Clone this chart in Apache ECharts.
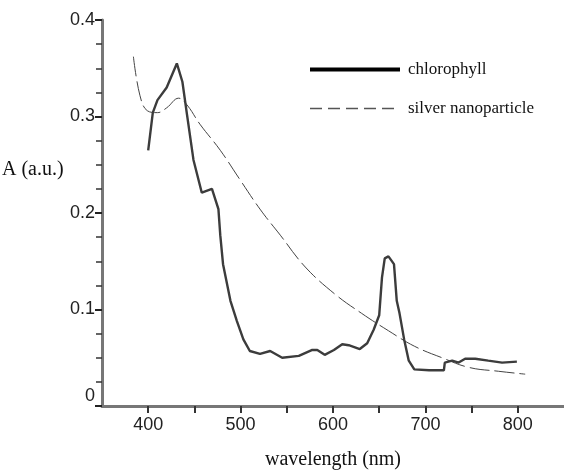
<!DOCTYPE html>
<html>
<head>
<meta charset="utf-8">
<script src="https://cdn.jsdelivr.net/npm/echarts@6/dist/echarts.min.js"></script>
<style>
html,body{margin:0;padding:0;background:#fff;}
#c{width:564px;height:475px;}
</style>
</head>
<body>
<div id="c"></div>
<script>
// wavelength (nm), absorbance (a.u.)
var chlorophyllWl = [400,405,410,420,431,437,442,449,458,469,476,478,481,489,496,503,510,521,532,545,563,577,583,591,601,610,617,629,637,644,650,653,656,660,666,669,672,677,682,688,704,720,721,729,736,743,754,768,783,799];
var chlorophyllA  = [0.265,0.304,0.317,0.330,0.355,0.336,0.302,0.255,0.221,0.225,0.204,0.177,0.147,0.109,0.088,0.069,0.057,0.054,0.057,0.050,0.052,0.058,0.058,0.053,0.058,0.064,0.063,0.059,0.065,0.079,0.094,0.133,0.153,0.155,0.147,0.109,0.096,0.069,0.047,0.038,0.037,0.037,0.045,0.047,0.045,0.049,0.049,0.047,0.045,0.046];
var silverWl = [384,391,399,410,420,433,442,456,478,499,521,543,570,602,631,660,688,718,747,779,808];
var silverA  = [0.362,0.322,0.306,0.304,0.309,0.319,0.312,0.292,0.265,0.235,0.204,0.177,0.144,0.116,0.096,0.078,0.062,0.050,0.040,0.036,0.033];
var seriesNames = ['chlorophyll','silver nanoparticle'];

function pairs(xs, ys){ return xs.map(function(x,i){ return [x, ys[i]]; }); }

var chart = echarts.init(document.getElementById('c'));
chart.setOption({
  animation:false,
  backgroundColor:'#fff',
  title:{
    text:'A (a.u.)', left:-3, top:155,
    textStyle:{fontFamily:'Liberation Serif', fontSize:20, fontWeight:'normal', color:'#111'}
  },
  legend:{
    orient:'vertical', left:303, top:56,
    itemWidth:90, itemHeight:14, itemGap:22,
    itemStyle:{opacity:0},
    textStyle:{fontFamily:'Liberation Serif', fontSize:17, color:'#111', padding:[0,0,0,3]},
    data:[
      {name:seriesNames[0], itemStyle:{opacity:0}, lineStyle:{color:'#000', width:4, type:'solid'}},
      {name:seriesNames[1], itemStyle:{opacity:0}, lineStyle:{color:'#555', width:1.3, type:[12,6]}}
    ]
  },
  grid:{left:102, right:0, top:20, bottom:60.5, containLabel:false},
  xAxis:{
    type:'value', min:350, max:850, interval:50,
    name:'wavelength (nm)', nameLocation:'middle', nameGap:44,
    nameTextStyle:{fontFamily:'Liberation Serif', fontSize:20, color:'#111'},
    axisLine:{lineStyle:{color:'#777', width:3}},
    axisTick:{length:7, lineStyle:{color:'#333', width:2}},
    splitLine:{show:false},
    axisLabel:{
      fontFamily:'Liberation Sans', fontSize:18, color:'#222', margin:10,
      showMinLabel:false, showMaxLabel:false,
      formatter:function(v){ return (v % 100 === 0) ? String(v) : ''; }
    }
  },
  yAxis:{
    type:'value', min:0, max:0.4, interval:0.1,
    axisLine:{show:true, lineStyle:{color:'#777', width:3}},
    axisTick:{show:true, length:7, lineStyle:{color:'#222', width:2}},
    minorTick:{show:true, splitNumber:4, length:6, lineStyle:{color:'#333', width:1.5}},
    splitLine:{show:false},
    axisLabel:{
      fontFamily:'Liberation Sans', fontSize:18, color:'#222', margin:7,
      formatter:function(v){ return v === 0 ? '{z|0}' : String(+v.toFixed(1)); },
      rich:{z:{fontFamily:'Liberation Sans', fontSize:18, color:'#222', padding:[0,0,20,0]}}
    }
  },
  series:[
    {
      name:seriesNames[0], type:'line', symbol:'none', smooth:false,
      data:pairs(chlorophyllWl, chlorophyllA),
      lineStyle:{color:'#3c3c3c', width:2.4},
      itemStyle:{color:'#000'}, z:3
    },
    {
      name:seriesNames[1], type:'line', symbol:'none', smooth:0.4,
      data:pairs(silverWl, silverA),
      lineStyle:{color:'#444', width:1, type:[20,5]},
      itemStyle:{color:'#555'}, z:2
    }
  ]
});
</script>
</body>
</html>
